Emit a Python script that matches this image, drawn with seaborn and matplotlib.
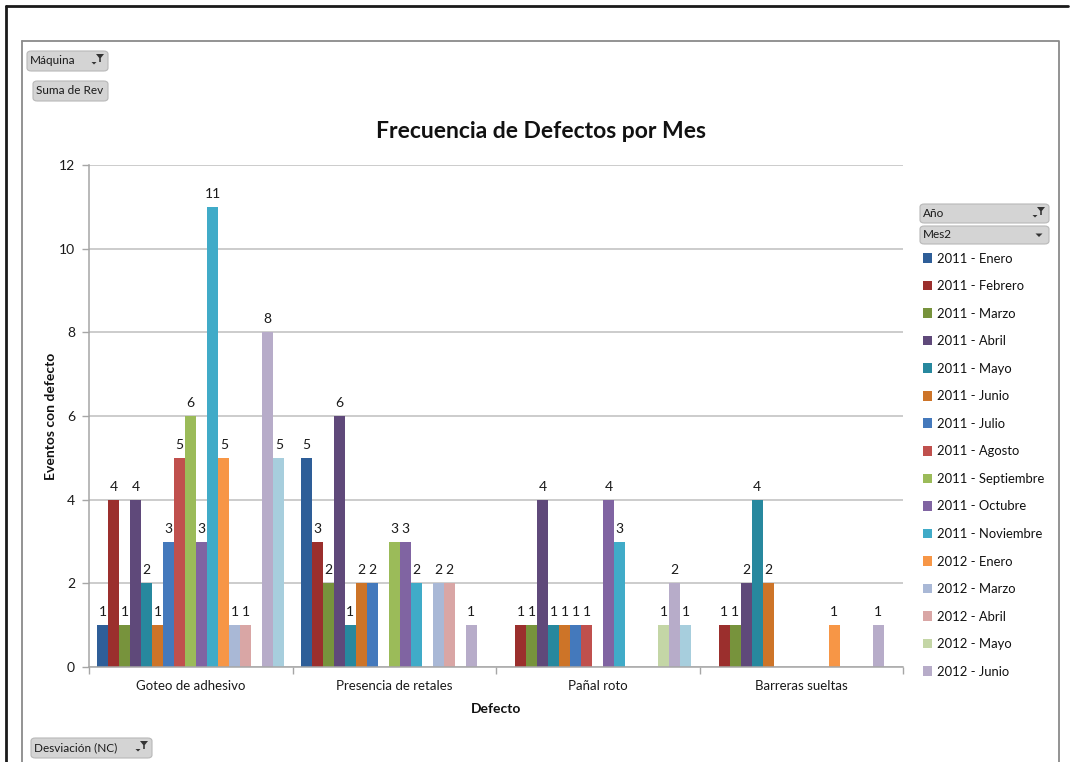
import matplotlib
matplotlib.use("Agg")
import matplotlib.pyplot as plt
import seaborn as sns
import pandas as pd
from matplotlib.patches import Patch, FancyBboxPatch, Polygon
from matplotlib.lines import Line2D

# ---------------- data ----------------
defectos = ["Goteo de adhesivo", "Presencia de retales", "Pañal roto", "Barreras sueltas"]
meses = ["2011 - Enero", "2011 - Febrero", "2011 - Marzo", "2011 - Abril", "2011 - Mayo",
         "2011 - Junio", "2011 - Julio", "2011 - Agosto", "2011 - Septiembre", "2011 - Octubre",
         "2011 - Noviembre", "2012 - Enero", "2012 - Marzo", "2012 - Abril", "2012 - Mayo",
         "2012 - Junio", "2012 - Julio"]
goteo      = [1, 4, 1, 4, 2, 1, 3, 5, 6, 3, 11, 5, 1, 1, 0, 8, 5]
presencia  = [5, 3, 2, 6, 1, 2, 2, 0, 3, 3, 2, 0, 2, 2, 0, 1, 0]
panal      = [0, 1, 1, 4, 1, 1, 1, 1, 0, 4, 3, 0, 0, 0, 1, 2, 1]
barreras   = [0, 1, 1, 2, 4, 2, 0, 0, 0, 0, 0, 1, 0, 0, 0, 1, 0]
valores = [goteo, presencia, panal, barreras]
colores = ["#2E5E98", "#9B2F2D", "#77933C", "#5F497A", "#27889E", "#CD7428",
           "#4479BC", "#C0504D", "#9BBB59", "#8064A2", "#40ABC8", "#F79646",
           "#A9B8D6", "#D9A6A5", "#C4D6A6", "#B7ACC9", "#A7CEDD"]
n_legend = 16  # the last series is not shown in the legend of the original

rows = []
for d, vals in zip(defectos, valores):
    for m, v in zip(meses, vals):
        rows.append({"Defecto": d, "Mes": m, "Eventos": v})
df = pd.DataFrame(rows)

# ---------------- figure ----------------
W, H = 1071, 762
sns.set_theme(style="white")
plt.rcParams["font.family"] = ["Lato", "DejaVu Sans"]

fig = plt.figure(figsize=(W / 100, H / 100), dpi=100)
fig.patch.set_facecolor("white")

def fx(x):
    return x / W

def fy(y):
    return 1 - y / H

ax = fig.add_axes([fx(89), fy(667), fx(903) - fx(89), fy(165) - fy(667)])

sns.barplot(data=df, x="Defecto", y="Eventos", hue="Mes", order=defectos,
            hue_order=meses, palette=colores, width=0.92, saturation=1,
            errorbar=None, linewidth=0, legend=False, ax=ax)

for i, cont in enumerate(ax.containers):
    labels = [str(v[i]) if v[i] > 0 else "" for v in valores]
    ax.bar_label(cont, labels=labels, padding=5, fontsize=10, color="#1A1A1A")

ax.set_ylim(0, 12)
ax.set_yticks(range(0, 13, 2))
ax.set_xlim(-0.5, 3.5)
ax.yaxis.grid(True, color="#BEBEBE", linewidth=1.1)
ax.set_axisbelow(True)
for s in ["top", "right"]:
    ax.spines[s].set_visible(False)
for s in ["left", "bottom"]:
    ax.spines[s].set_color("#A6A6A6")
    ax.spines[s].set_linewidth(1.1)

ax.tick_params(axis="y", which="major", length=5, color="#A6A6A6", width=1,
               labelsize=10, labelcolor="#1A1A1A", pad=5, left=True)
ax.tick_params(axis="x", which="major", length=0, labelsize=9.5, labelcolor="#1A1A1A", pad=9)
ax.set_xticks([-0.5, 0.5, 1.5, 2.5, 3.5], minor=True)
ax.tick_params(axis="x", which="minor", length=5, color="#A6A6A6", width=1, bottom=True)

ax.set_xlabel("Defecto", fontsize=10, fontweight="bold", color="#111111", labelpad=8)
ax.set_ylabel("Eventos con defecto", fontsize=10, fontweight="bold", color="#111111", labelpad=1)

fig.text(fx(541), fy(131), "Frecuencia de Defectos por Mes", ha="center", va="center",
         fontsize=16.5, fontweight="bold", color="#111111")

# legend
handles = [Patch(facecolor=c, edgecolor="none") for c in colores[:n_legend]]
fig.legend(handles, meses[:n_legend], loc="upper left",
           bbox_to_anchor=(fx(920), fy(250)), frameon=False, fontsize=9.4,
           handlelength=0.75, handleheight=0.75, handletextpad=0.35,
           labelspacing=1.19, borderaxespad=0, borderpad=0.2,
           labelcolor="#111111")

# frames
fig.add_artist(Line2D([fx(6), fx(1068)], [fy(6), fy(6)], color="#1A1A1A", lw=2))
fig.add_artist(Line2D([fx(6), fx(6)], [fy(6), 0], color="#1A1A1A", lw=2))
fig.add_artist(Line2D([fx(22), fx(1059), fx(1059)], [fy(41), fy(41), 0],
                      color="#8A8A8A", lw=1.3))
fig.add_artist(Line2D([fx(22), fx(22)], [fy(41), 0], color="#8A8A8A", lw=1.3))

# pivot field buttons
def button(x0, y0, x1, y1, text, icon=None):
    p = FancyBboxPatch((fx(x0), fy(y1)), fx(x1) - fx(x0), fy(y0) - fy(y1),
                       boxstyle="round,pad=0,rounding_size=0.004",
                       transform=fig.transFigure, facecolor="#D4D4D4",
                       edgecolor="#B8B8B8", lw=0.8)
    fig.add_artist(p)
    fig.text(fx(x0 + 3), fy((y0 + y1) / 2), text, ha="left", va="center",
             fontsize=8.5, color="#1A1A1A")
    if icon == "filter":
        cx, cy = x1 - 8, y0 + 5
        fig.add_artist(Polygon([(fx(cx - 4), fy(cy - 2)), (fx(cx + 4), fy(cy - 2)),
                                (fx(cx + 0.8), fy(cy + 2)), (fx(cx + 0.8), fy(cy + 6)),
                                (fx(cx - 0.8), fy(cy + 6)), (fx(cx - 0.8), fy(cy + 2))],
                               closed=True, transform=fig.transFigure,
                               facecolor="#333333", edgecolor="none"))
        ax_ = x1 - 14
        ay_ = y0 + 11
        fig.add_artist(Polygon([(fx(ax_ - 2.5), fy(ay_)), (fx(ax_ + 2.5), fy(ay_)),
                                (fx(ax_), fy(ay_ + 2.5))], closed=True,
                               transform=fig.transFigure, facecolor="#333333",
                               edgecolor="none"))
    elif icon == "drop":
        ax_ = x1 - 10
        ay_ = (y0 + y1) / 2 - 1.5
        fig.add_artist(Polygon([(fx(ax_ - 3.5), fy(ay_)), (fx(ax_ + 3.5), fy(ay_)),
                                (fx(ax_), fy(ay_ + 3.5))], closed=True,
                               transform=fig.transFigure, facecolor="#333333",
                               edgecolor="none"))

button(27, 51, 108, 71, "Máquina", "filter")
button(33, 81, 108, 101, "Suma de Rev")
button(920, 204, 1049, 223, "Año", "filter")
button(920, 226, 1049, 244, "Mes2", "drop")
button(31, 738, 152, 758, "Desviación (NC)", "filter")

fig.savefig("out.png", dpi=100)
